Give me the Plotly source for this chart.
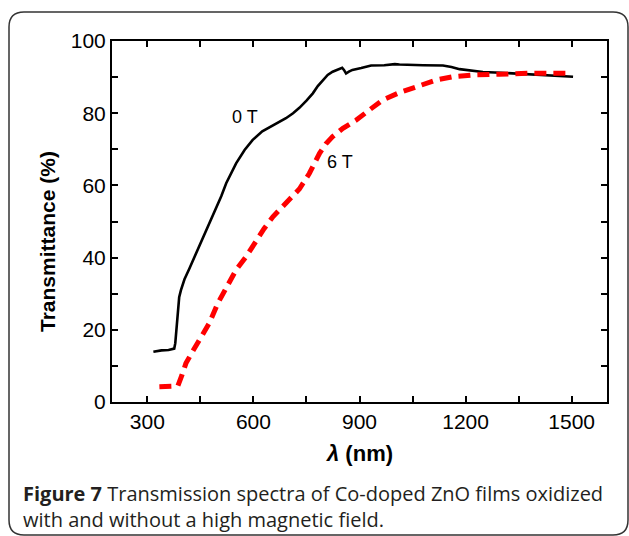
import plotly.graph_objects as go

# 0 T curve (black, solid)
wl_0T = [317, 340, 360, 371, 376, 379, 383, 386, 390, 395, 405, 419, 437, 456, 475, 494, 509, 523,
         537, 551, 575, 598, 625, 655, 675, 692, 712, 730, 750, 768, 782, 796, 810, 824, 838, 851,
         856, 862, 870, 880, 905, 933, 970, 1000, 1013, 1030, 1080, 1136, 1160, 1183, 1220, 1249,
         1300, 1350, 1380, 1419, 1460, 1504]
t_0T = [13.9, 14.3, 14.4, 14.6, 14.8, 16.3, 21.5, 26.4, 29.0, 31.0, 34.0, 37.0, 41.0, 44.9, 49.0,
        53.2, 57.0, 60.6, 63.5, 66.1, 69.8, 72.6, 75.0, 76.7, 77.7, 78.6, 80.0, 81.5, 83.5, 85.5,
        87.5, 89.2, 90.6, 91.5, 92.1, 92.6, 92.0, 91.0, 91.5, 92.0, 92.5, 93.2, 93.3, 93.6, 93.5,
        93.4, 93.3, 93.2, 92.8, 92.2, 91.7, 91.4, 91.2, 90.9, 90.8, 90.5, 90.3, 90.1]

# 6 T curve (red, dashed)
wl_6T = [334, 360, 386, 398, 409, 428, 447, 475, 499, 523, 551, 579, 608, 630, 655, 692, 730, 758,
         787, 805, 824, 853, 891, 928, 966, 1013, 1070, 1117, 1164, 1221, 1296, 1390, 1499]
t_6T = [4.2, 4.2, 4.4, 7.5, 10.7, 14.0, 17.2, 21.8, 27.3, 31.9, 36.6, 40.2, 44.9, 48.0, 51.3, 55.0,
        59.0, 63.3, 68.9, 71.5, 73.5, 75.8, 78.1, 80.9, 83.7, 85.7, 87.8, 89.2, 90.1, 90.6, 90.8,
        91.1, 91.1]

x_ticks = [300, 450, 600, 750, 900, 1050, 1200, 1350, 1500]
x_labels = ["300", "", "600", "", "900", "", "1200", "", "1500"]
y_ticks = [0, 10, 20, 30, 40, 50, 60, 70, 80, 90, 100]
y_labels = ["0", "", "20", "", "40", "", "60", "", "80", "", "100"]

W, H = 629, 536
L, R, T, B = 112, 22, 41, 134
pw, ph = W - L - R, H - T - B

def px(x):  # pixel -> paper x
    return (x - L) / pw

def py(y):  # pixel -> paper y
    return (H - B - y) / ph

fig = go.Figure()
fig.add_trace(go.Scatter(x=wl_0T, y=t_0T, mode="lines",
                         line=dict(color="black", width=2.6), showlegend=False))
fig.add_trace(go.Scatter(x=wl_6T, y=t_6T, mode="lines",
                         line=dict(color="#ff0000", width=5, dash="12px,7px"), showlegend=False))

axis_font = dict(family="Liberation Sans, Arial", size=21, color="black")
fig.update_xaxes(range=[200, 1600], tickvals=x_ticks, ticktext=x_labels, ticks="inside",
                 ticklen=6, tickwidth=1.5, tickcolor="black", showline=True, linewidth=2,
                 linecolor="black", mirror="ticks", showgrid=False, zeroline=False,
                 tickfont=axis_font)
fig.update_yaxes(range=[0, 100], tickvals=y_ticks, ticktext=y_labels, ticks="inside",
                 ticklen=6, tickwidth=1.5, tickcolor="black", showline=True, linewidth=2,
                 linecolor="black", mirror="ticks", showgrid=False, zeroline=False,
                 tickfont=axis_font)

# rounded border
x0, x1, y0, y1, r = px(9), px(628), py(12), py(535), 15
rx, ry = r / pw, r / ph
path = (f"M {x0+rx},{y0} L {x1-rx},{y0} Q {x1},{y0} {x1},{y0-ry} "
        f"L {x1},{y1+ry} Q {x1},{y1} {x1-rx},{y1} L {x0+rx},{y1} Q {x0},{y1} {x0},{y1+ry} "
        f"L {x0},{y0-ry} Q {x0},{y0} {x0+rx},{y0} Z")
fig.add_shape(type="path", path=path, xref="paper", yref="paper",
              line=dict(color="#333333", width=1.5))

annos = [
    dict(x=577, y=79, xref="x", yref="y", text="0 T", font=dict(family="Liberation Sans, Arial", size=18, color="black")),
    dict(x=846, y=66.5, xref="x", yref="y", text="6 T", font=dict(family="Liberation Sans, Arial", size=18, color="black")),
    dict(x=px(47), y=py(242), xref="paper", yref="paper", text="<b>Transmittance (%)</b>", textangle=-90,
         font=dict(family="Liberation Sans, Arial", size=21, color="black")),
    dict(x=px(359), y=py(453), xref="paper", yref="paper",
         text="<b><i>λ</i> (nm)</b>", font=dict(family="Liberation Sans, Arial", size=22, color="black")),
    dict(x=px(21), y=py(493), xref="paper", yref="paper", xanchor="left",
         text="<b>Figure 7</b> Transmission spectra of Co-doped ZnO films oxidized",
         font=dict(family="Open Sans", size=20, color="#231f20")),
    dict(x=px(21), y=py(519), xref="paper", yref="paper", xanchor="left",
         text="with and without a high magnetic field.",
         font=dict(family="Open Sans", size=20, color="#231f20")),
]
for a in annos:
    a.setdefault("showarrow", False)
    a.setdefault("xanchor", "center")
    a["yanchor"] = "middle"
    fig.add_annotation(**a)

fig.update_layout(width=W, height=H, margin=dict(l=L, r=R, t=T, b=B),
                  paper_bgcolor="white", plot_bgcolor="white")
fig.write_html("out.html")
